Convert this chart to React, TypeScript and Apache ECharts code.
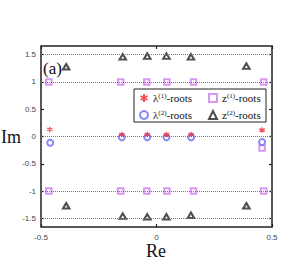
import React, { useEffect, useRef } from "react";
import * as echarts from "echarts";

const lambda1: [number, number][] = [
  [-0.462, 0.13], [-0.15, 0.036], [-0.04, 0.036], [0.043, 0.036], [0.15, 0.036], [0.457, 0.12],
];
const lambda2: [number, number][] = [
  [-0.46, -0.115], [-0.15, -0.015], [-0.04, -0.015], [0.043, -0.015], [0.15, -0.015], [0.457, -0.1],
];
const z1: [number, number][] = [
  [-0.466, 1], [-0.155, 1], [-0.042, 1], [0.045, 1], [0.16, 1], [0.464, 1],
  [-0.466, -1], [-0.155, -1], [-0.042, -1], [0.045, -1], [0.16, -1], [0.464, -1],
  [0.457, -0.21],
];
const z2: [number, number][] = [
  [-0.391, 1.28], [-0.146, 1.46], [-0.04, 1.475], [0.043, 1.475], [0.149, 1.46], [0.389, 1.29],
  [-0.391, -1.27], [-0.146, -1.46], [-0.04, -1.475], [0.043, -1.475], [0.149, -1.445], [0.389, -1.27],
];
const refLines = [1.5, 1, 0, -1, -1.5];
const yTicks = [-1.5, -1, -0.5, 0, 0.5, 1, 1.5];

const STAR = "path://M5,0L5,10M0.67,2.5L9.33,7.5M0.67,7.5L9.33,2.5";
const SERIF = "Liberation Serif";

const fmt = (name: string) => {
  const m = name.match(/^(.)\((\d)\)(.*)$/);
  if (!m) return name;
  return `{b|${m[1]}}{s|(${m[2]})}{b|${m[3]}}`;
};

export default function App() {
  const ref = useRef<HTMLDivElement>(null);
  useEffect(() => {
    document.body.style.margin = "0";
    if (!ref.current) return;
    const chart = echarts.init(ref.current, undefined, { renderer: "svg" });
    const legendText = {
      fontFamily: SERIF,
      color: "#111",
      lineHeight: 12,
      rich: {
        b: { fontFamily: SERIF, fontSize: 11, color: "#111", lineHeight: 12 },
        s: { fontFamily: SERIF, fontSize: 7, color: "#111", verticalAlign: "top", lineHeight: 12, padding: [0, 0, 4, 0] },
      },
    };
    const legendCommon = {
      orient: "vertical",
      top: 92,
      padding: 0,
      itemWidth: 8,
      itemHeight: 8,
      itemGap: 5,
      formatter: fmt,
      textStyle: legendText,
      z: 10,
    };
    const tickStyle = { color: "#222", width: 1.2 };
    chart.setOption({
      animation: false,
      grid: { left: 41, right: 29, top: 46, bottom: 36, show: true, borderColor: "#222", borderWidth: 1.5 },
      xAxis: [
        {
          type: "value", min: -0.5, max: 0.5, interval: 0.5, position: "bottom",
          axisLine: { show: false, onZero: false }, splitLine: { show: false },
          axisTick: { inside: true, length: 3, lineStyle: tickStyle },
          axisLabel: { fontFamily: "Liberation Sans", fontSize: 8, color: "#444", margin: 6 },
        },
        {
          type: "value", min: -0.5, max: 0.5, interval: 0.5, position: "top",
          axisLine: { show: false, onZero: false }, splitLine: { show: false },
          axisTick: { inside: true, length: 3, lineStyle: tickStyle },
          axisLabel: { show: false },
        },
      ],
      yAxis: [
        {
          type: "value", min: -1.66, max: 1.66, position: "left",
          axisLine: { show: false, onZero: false }, splitLine: { show: false },
          axisTick: { inside: true, length: 3, customValues: yTicks, lineStyle: tickStyle },
          axisLabel: { customValues: yTicks, fontFamily: "Liberation Sans", fontSize: 8, color: "#444", margin: 5 },
        },
        {
          type: "value", min: -1.66, max: 1.66, position: "right",
          axisLine: { show: false, onZero: false }, splitLine: { show: false },
          axisTick: { inside: true, length: 3, customValues: yTicks, lineStyle: tickStyle },
          axisLabel: { show: false },
        },
      ],
      legend: [
        { ...legendCommon, left: 139, data: ["λ(1)-roots", "λ(2)-roots"] },
        { ...legendCommon, left: 208, data: ["z(1)-roots", "z(2)-roots"] },
      ],
      graphic: [
        { type: "rect", shape: { x: 134, y: 89, width: 132, height: 33 }, style: { fill: "#fff", stroke: "#222", lineWidth: 1 }, z: 5 },
        { type: "text", x: 1, y: 128, style: { text: "Im", fontFamily: SERIF, fontSize: 18, fill: "#111" } },
        { type: "text", x: 146, y: 242, style: { text: "Re", fontFamily: SERIF, fontSize: 18, fill: "#111" } },
        { type: "text", x: 43, y: 60, style: { text: "(a)", fontFamily: SERIF, fontSize: 17, fill: "#111" } },
      ],
      series: [
        {
          type: "scatter", data: [], silent: true,
          markLine: {
            silent: true, symbol: "none", label: { show: false },
            lineStyle: { type: "dotted", color: "#777", width: 1 },
            data: refLines.map((v) => ({ yAxis: v })),
          },
        },
        {
          name: "z(1)-roots", type: "scatter", data: z1, symbol: "emptyRect", symbolSize: 5.5,
          itemStyle: { color: "#cf7cf0", borderColor: "#cf7cf0", borderWidth: 1 }, z: 3,
        },
        {
          name: "z(2)-roots", type: "scatter", data: z2, symbol: "emptyTriangle", symbolSize: [6.5, 5.5],
          itemStyle: { color: "#222", borderColor: "#222", borderWidth: 0.9 }, z: 3,
        },
        {
          name: "λ(2)-roots", type: "scatter", data: lambda2, symbol: "emptyCircle", symbolSize: 6,
          itemStyle: { color: "#6a6cf6", borderColor: "#6a6cf6", borderWidth: 0.9 }, z: 4,
        },
        {
          name: "λ(1)-roots", type: "scatter", data: lambda1, symbol: STAR, symbolSize: 5.5,
          itemStyle: { color: "#f0282d", borderColor: "#f0282d", borderWidth: 1.3 }, z: 5,
        },
      ],
    });
    return () => chart.dispose();
  }, []);
  return <div ref={ref} style={{ width: 301, height: 263 }} />;
}
